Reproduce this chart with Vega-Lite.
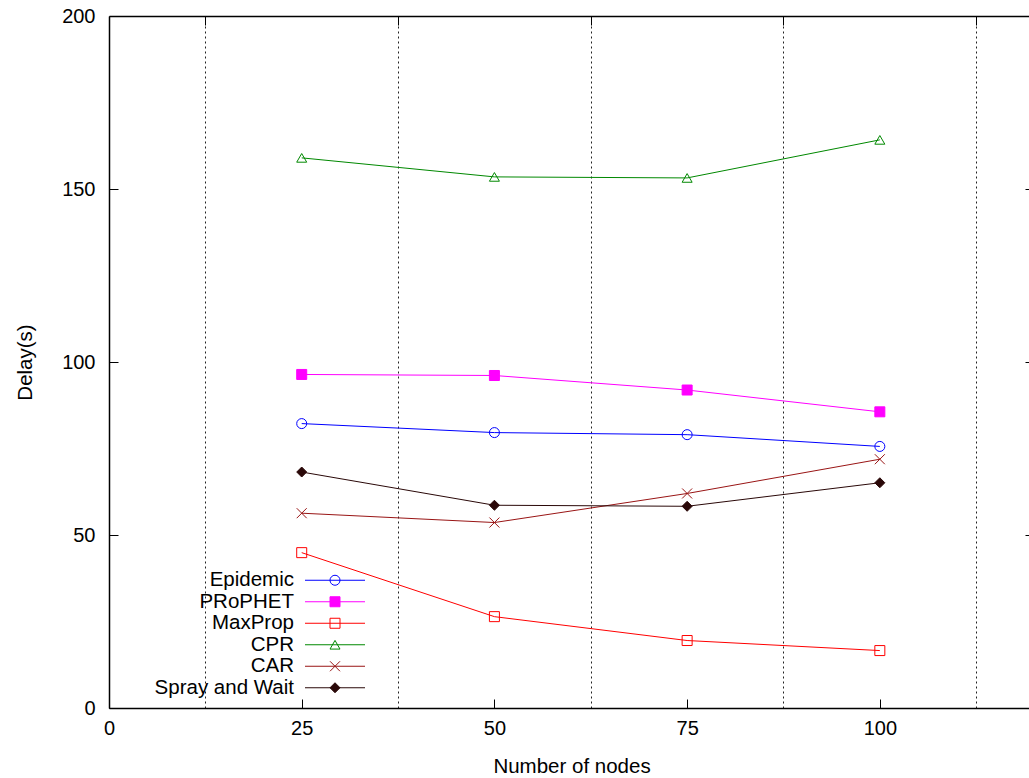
{
  "$schema": "https://vega.github.io/schema/vega-lite/v6.json",
  "width": 920,
  "height": 692,
  "autosize": {"type": "none"},
  "padding": {"left": 109, "top": 16, "right": 0, "bottom": 70},
  "background": "white",
  "config": {
    "view": {"stroke": null},
    "font": "Liberation Sans",
    "axis": {
      "domainColor": "black",
      "domainWidth": 1.5,
      "tickColor": "black",
      "tickWidth": 1,
      "labelColor": "black",
      "labelFont": "Liberation Sans",
      "labelFontSize": 20,
      "labelFlush": false,
      "labelOverlap": false,
      "titleFont": "Liberation Sans",
      "titleFontSize": 20.5,
      "titleFontWeight": "normal",
      "titleColor": "black",
      "grid": false
    },
    "legend": {
      "orient": "none",
      "legendX": 185,
      "legendY": 554,
      "padding": 0,
      "direction": "vertical",
      "symbolSize": 100,
      "symbolStrokeWidth": 1,
      "symbolOpacity": 1,
      "labelFont": "Liberation Sans",
      "labelFontSize": 20.5,
      "labelColor": "black",
      "labelAlign": "right",
      "labelOffset": -51.25,
      "symbolOffset": 30.75,
      "rowPadding": 0.5
    }
  },
  "data": {
    "values": [
      {"protocol": "Epidemic", "nodes": 25, "delay": 82.2},
      {"protocol": "Epidemic", "nodes": 50, "delay": 79.6},
      {"protocol": "Epidemic", "nodes": 75, "delay": 79.0},
      {"protocol": "Epidemic", "nodes": 100, "delay": 75.6},
      {"protocol": "PRoPHET", "nodes": 25, "delay": 96.4},
      {"protocol": "PRoPHET", "nodes": 50, "delay": 96.1},
      {"protocol": "PRoPHET", "nodes": 75, "delay": 91.9},
      {"protocol": "PRoPHET", "nodes": 100, "delay": 85.6},
      {"protocol": "MaxProp", "nodes": 25, "delay": 44.9},
      {"protocol": "MaxProp", "nodes": 50, "delay": 26.4},
      {"protocol": "MaxProp", "nodes": 75, "delay": 19.5},
      {"protocol": "MaxProp", "nodes": 100, "delay": 16.6},
      {"protocol": "CPR", "nodes": 25, "delay": 159.0},
      {"protocol": "CPR", "nodes": 50, "delay": 153.5},
      {"protocol": "CPR", "nodes": 75, "delay": 153.2},
      {"protocol": "CPR", "nodes": 100, "delay": 164.2},
      {"protocol": "CAR", "nodes": 25, "delay": 56.3},
      {"protocol": "CAR", "nodes": 50, "delay": 53.6},
      {"protocol": "CAR", "nodes": 75, "delay": 62.0},
      {"protocol": "CAR", "nodes": 100, "delay": 71.9},
      {"protocol": "Spray and Wait", "nodes": 25, "delay": 68.2},
      {"protocol": "Spray and Wait", "nodes": 50, "delay": 58.6},
      {"protocol": "Spray and Wait", "nodes": 75, "delay": 58.3},
      {"protocol": "Spray and Wait", "nodes": 100, "delay": 65.1}
    ]
  },
  "layer": [
    {
      "mark": {"type": "line", "strokeWidth": 1},
      "encoding": {
        "x": {
          "field": "nodes",
          "type": "quantitative",
          "scale": {"domain": [0, 119.35], "nice": false, "zero": false},
          "axis": {
            "orient": "bottom",
            "values": [0, 25, 50, 75, 100],
            "tickSize": -9,
            "labelPadding": 19,
            "title": "Number of nodes",
            "titleX": 462.5,
            "titleY": 64,
            "titleAlign": "center",
            "titleBaseline": "alphabetic"
          }
        },
        "y": {
          "field": "delay",
          "type": "quantitative",
          "scale": {"domain": [0, 200], "nice": false, "zero": false},
          "axis": {
            "orient": "left",
            "values": [0, 50, 100, 150, 200],
            "tickSize": -9,
            "labelPadding": 23,
            "title": "Delay(s)",
            "titleAngle": -90,
            "titleX": -78,
            "titleY": 346,
            "titleAlign": "center",
            "titleBaseline": "alphabetic"
          }
        },
        "stroke": {
          "field": "protocol",
          "type": "nominal",
          "sort": ["Epidemic", "PRoPHET", "MaxProp", "CPR", "CAR", "Spray and Wait"],
          "scale": {"range": ["#0000ff", "#ff00ff", "#ff0000", "#008800", "#991515", "#2a0808"]},
          "legend": {"title": null, "symbolType": "M-6,0H6", "labelOpacity": 0}
        }
      }
    },
    {
      "mark": {"type": "point", "filled": false, "size": 100, "strokeWidth": 1, "opacity": 1},
      "encoding": {
        "x": {
          "field": "nodes",
          "type": "quantitative",
          "axis": {
            "orient": "top",
            "values": [12.5, 37.5, 62.5, 87.5, 112.5],
            "labels": false,
            "tickSize": -9,
            "title": null,
            "grid": true,
            "gridColor": "#222222",
            "gridDash": [2, 3],
            "gridWidth": 1,
            "gridOpacity": 1
          }
        },
        "y": {
          "field": "delay",
          "type": "quantitative",
          "axis": {
            "orient": "right",
            "values": [0, 50, 100, 150, 200],
            "labels": false,
            "domain": false,
            "tickSize": -4,
            "title": null
          }
        },
        "color": {
          "field": "protocol",
          "type": "nominal",
          "scale": {
            "domain": ["Epidemic", "PRoPHET", "MaxProp", "CPR", "CAR", "Spray and Wait"],
            "range": ["#0000ff", "#ff00ff", "#ff0000", "#008800", "#991515", "#2a0808"]
          },
          "legend": {"title": null}
        },
        "shape": {
          "field": "protocol",
          "type": "nominal",
          "scale": {
            "domain": ["Epidemic", "PRoPHET", "MaxProp", "CPR", "CAR", "Spray and Wait"],
            "range": ["circle", "square", "square", "triangle-up", "M-1,-1L1,1M-1,1L1,-1", "diamond"]
          },
          "legend": {"title": null}
        },
        "fill": {
          "field": "protocol",
          "type": "nominal",
          "scale": {
            "domain": ["Epidemic", "PRoPHET", "MaxProp", "CPR", "CAR", "Spray and Wait"],
            "range": ["transparent", "#ff00ff", "transparent", "transparent", "transparent", "#2a0808"]
          },
          "legend": null
        }
      }
    }
  ],
  "resolve": {"axis": {"x": "independent", "y": "independent"}}
}
